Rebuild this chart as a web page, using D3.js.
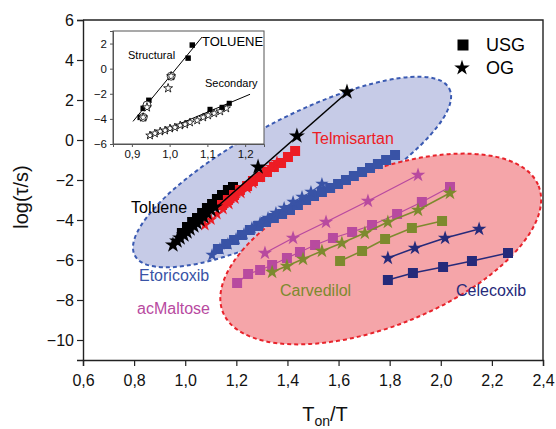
<!DOCTYPE html>
<html>
<head>
<meta charset="utf-8">
<script src="https://cdn.jsdelivr.net/npm/d3@7"></script>
<style>
  body { margin: 0; background: #fff; }
  svg { font-family: "Liberation Sans", Arial, sans-serif; }
</style>
</head>
<body>
<svg id="chart" width="556" height="429"></svg>
<script>
// ---- data ----
var xTicks = [0.6, 0.8, 1.0, 1.2, 1.4, 1.6, 1.8, 2.0, 2.2, 2.4];
var yTicks = [-10, -8, -6, -4, -2, 0, 2, 4, 6];

// Toluene
var tolueneUsgX = [0.987, 1.007, 1.027, 1.046, 1.066, 1.085, 1.105, 1.124, 1.144, 1.167, 1.187];
var tolueneUsgY = [-4.65, -4.35, -4.1, -3.9, -3.65, -3.4, -3.2, -2.95, -2.75, -2.5, -2.35];
var tolueneOgX = [0.952, 0.968, 0.980, 0.995, 1.007, 1.019, 1.034, 1.046, 1.058, 1.073, 1.085, 1.101, 1.116, 1.285, 1.437, 1.633];
var tolueneOgY = [-5.25, -5.05, -4.9, -4.75, -4.6, -4.45, -4.3, -4.15, -4.0, -3.85, -3.65, -3.5, -3.35, -1.35, 0.2, 2.4];
var tolueneFitX = [0.95, 1.64];
var tolueneFitY = [-5.3, 2.45];

// Telmisartan
var telmiUsgX = [1.144, 1.167, 1.191, 1.214, 1.242, 1.265, 1.293, 1.320, 1.347, 1.375, 1.402, 1.430];
var telmiUsgY = [-3.25, -3.0, -2.75, -2.5, -2.3, -2.05, -1.85, -1.6, -1.35, -1.15, -0.85, -0.55];
var telmiOgX = [1.077, 1.101, 1.124, 1.148, 1.171, 1.195, 1.218, 1.242, 1.265, 1.289, 1.312, 1.336, 1.359];
var telmiOgY = [-4.25, -3.98, -3.7, -3.45, -3.2, -2.93, -2.65, -2.4, -2.15, -1.85, -1.6, -1.35, -1.1];

// Etoricoxib
var etoUsgX = [1.128, 1.160, 1.191, 1.222, 1.253, 1.285, 1.316, 1.347, 1.379, 1.410, 1.441, 1.473, 1.504, 1.535, 1.567, 1.598, 1.629, 1.660, 1.692, 1.723, 1.754, 1.786, 1.821];
var etoUsgY = [-5.45, -5.2, -5.0, -4.75, -4.5, -4.3, -4.1, -3.9, -3.7, -3.5, -3.25, -3.0, -2.8, -2.6, -2.4, -2.2, -2.0, -1.8, -1.6, -1.4, -1.2, -1.0, -0.75];
var etoOgX = [1.105, 1.136, 1.167, 1.199, 1.230, 1.261, 1.293, 1.324, 1.355, 1.387, 1.422, 1.457, 1.492, 1.535];
var etoOgY = [-5.75, -5.45, -5.2, -4.95, -4.7, -4.4, -4.15, -3.9, -3.65, -3.4, -3.1, -2.85, -2.6, -2.2];

// acMaltose
var maltUsgX = [1.203, 1.246, 1.293, 1.340, 1.398, 1.449, 1.508, 1.578, 1.653, 1.731, 1.829, 1.926, 2.036];
var maltUsgY = [-7.15, -6.7, -6.5, -6.25, -5.9, -5.6, -5.25, -4.9, -4.6, -4.25, -3.7, -3.1, -2.35];
var maltOgX = [1.312, 1.422, 1.551, 1.715, 1.911];
var maltOgY = [-5.65, -4.9, -4.1, -3.05, -1.75];

// Carvedilol
var carvUsgX = [1.606, 1.692, 1.782, 1.887, 2.005];
var carvUsgY = [-6.05, -5.55, -4.95, -4.4, -4.05];
var carvOgX = [1.340, 1.398, 1.461, 1.535, 1.613, 1.703, 1.793, 1.911, 2.036];
var carvOgY = [-6.6, -6.3, -5.95, -5.55, -5.15, -4.65, -4.1, -3.5, -2.65];

// Celecoxib
var celeUsgX = [1.793, 1.891, 2.009, 2.122, 2.263];
var celeUsgY = [-7.0, -6.65, -6.35, -6.05, -5.65];
var celeOgX = [1.793, 1.899, 2.017, 2.150];
var celeOgY = [-5.9, -5.4, -4.9, -4.45];

// ellipse centres (data units)
var blueEllipseC = [1.418, -1.6];
var redEllipseC = [1.765, -5.45];

// inset: toluene structural / secondary
var insetXTicks = [0.9, 1.0, 1.1, 1.2];
var insetYTicks = [-6, -4, -2, 0, 2];
var structSqX = [1.060, 1.049, 0.945, 0.930, 0.922];
var structSqY = [1.88, 0.84, -2.52, -3.16, -3.88];
var structStarX = [1.004, 0.996, 0.940, 0.930];
var structStarY = [-0.6, -1.56, -3.08, -3.88];
var structCircX = [1.004, 0.940, 0.930];
var structCircY = [-0.6, -2.9, -3.88];
var structFitX = [0.903, 1.086];
var structFitY = [-4.2, 2.52];
var secStarX = [0.948, 0.961, 0.975, 0.988, 1.001, 1.014, 1.028, 1.041, 1.054, 1.073, 1.089, 1.102, 1.118, 1.134, 1.150];
var secStarY = [-5.32, -5.16, -5.0, -4.92, -4.76, -4.68, -4.52, -4.44, -4.28, -4.12, -3.88, -3.72, -3.56, -3.4, -3.16];
var secSqX = [1.107, 1.139, 1.158];
var secSqY = [-3.24, -3.08, -2.76];
var secFitX = [0.94, 1.213];
var secFitY = [-5.48, -2.04];

// ---- drawing ----
var svg = d3.select("#chart");
var x = d3.scaleLinear().domain([0.6, 2.4]).range([83, 543]);
var y = d3.scaleLinear().domain([-11, 6]).range([360, 20]);

var zip = function(xs, ys) { return xs.map(function(v, i) { return [v, ys[i]]; }); };
var commaFmt = function(d) { return d3.format(".1f")(d).replace(".", ","); };

// ellipses
svg.append("ellipse")
    .attr("cx", x(blueEllipseC[0])).attr("cy", y(blueEllipseC[1]))
    .attr("rx", 178).attr("ry", 52)
    .attr("transform", "rotate(-28," + x(blueEllipseC[0]) + "," + y(blueEllipseC[1]) + ")")
    .attr("fill", "#c6cbe7")
    .attr("stroke", "#3a5ab2").attr("stroke-width", 2).attr("stroke-dasharray", "4,3");

svg.append("ellipse")
    .attr("cx", x(redEllipseC[0])).attr("cy", y(redEllipseC[1]))
    .attr("rx", 170).attr("ry", 77)
    .attr("transform", "rotate(-21.8," + x(redEllipseC[0]) + "," + y(redEllipseC[1]) + ")")
    .attr("fill", "#f5a5a9")
    .attr("stroke", "#e8232b").attr("stroke-width", 2).attr("stroke-dasharray", "4,3");

var line = d3.line().x(function(d) { return x(d[0]); }).y(function(d) { return y(d[1]); });

var drawLine = function(pts, color, w) {
    svg.append("path").attr("d", line(pts))
        .attr("fill", "none").attr("stroke", color).attr("stroke-width", w);
};

var drawMarks = function(pts, type, size, color) {
    svg.append("g").selectAll("path")
        .data(pts)
        .enter()
        .append("path")
        .attr("transform", function(d) { return "translate(" + x(d[0]) + "," + y(d[1]) + ")"; })
        .attr("d", d3.symbol().type(type).size(size)())
        .attr("fill", color);
};

var cBlack = "#000000", cRed = "#ed1c24", cBlue = "#3953a6", cMag = "#b84a9f", cOlive = "#7d8a2e", cNavy = "#262a7a";

// Etoricoxib
drawMarks(zip(etoUsgX, etoUsgY), d3.symbolSquare, 100, cBlue);
drawLine(zip(etoOgX, etoOgY), cBlue, 1.3);
drawMarks(zip(etoOgX, etoOgY), d3.symbolStar, 55, cBlue);

// acMaltose
drawLine(zip(maltUsgX, maltUsgY), cMag, 1.3);
drawMarks(zip(maltUsgX, maltUsgY), d3.symbolSquare, 100, cMag);
drawLine(zip(maltOgX, maltOgY), cMag, 1.3);
drawMarks(zip(maltOgX, maltOgY), d3.symbolStar, 65, cMag);

// Carvedilol
drawLine(zip(carvUsgX, carvUsgY), cOlive, 1.5);
drawMarks(zip(carvUsgX, carvUsgY), d3.symbolSquare, 100, cOlive);
drawLine(zip(carvOgX, carvOgY), cOlive, 1.5);
drawMarks(zip(carvOgX, carvOgY), d3.symbolStar, 65, cOlive);

// Celecoxib
drawLine(zip(celeUsgX, celeUsgY), cNavy, 1.5);
drawMarks(zip(celeUsgX, celeUsgY), d3.symbolSquare, 100, cNavy);
drawLine(zip(celeOgX, celeOgY), cNavy, 1.5);
drawMarks(zip(celeOgX, celeOgY), d3.symbolStar, 65, cNavy);

// Toluene & Telmisartan
drawMarks(zip(tolueneUsgX, tolueneUsgY), d3.symbolSquare, 100, cBlack);
drawMarks(zip(telmiUsgX, telmiUsgY), d3.symbolSquare, 100, cRed);
drawMarks(zip(telmiOgX, telmiOgY), d3.symbolStar, 50, cRed);
drawMarks(zip(tolueneOgX, tolueneOgY), d3.symbolStar, 80, cBlack);
drawLine(zip(tolueneFitX, tolueneFitY), cBlack, 1.5);

// axes
var axisColor = "#222";
var gx = svg.append("g").attr("transform", "translate(0,360)");
gx.call(d3.axisBottom(x).tickValues(d3.range(6, 25).map(function(v) { return v / 10; })).tickSize(3).tickFormat(""));
gx.call(d3.axisBottom(x).tickValues(xTicks).tickSize(6).tickFormat(commaFmt));
var gy = svg.append("g").attr("transform", "translate(83,0)");
gy.call(d3.axisLeft(y).tickValues(d3.range(-11, 7)).tickSize(3).tickFormat(""));
gy.call(d3.axisLeft(y).tickValues(yTicks).tickSize(6));
svg.selectAll(".domain").attr("stroke", axisColor).attr("stroke-width", 1.4);
svg.selectAll(".tick line").attr("stroke", axisColor).attr("stroke-width", 1.2);
svg.selectAll(".tick text").attr("font-size", 16).attr("fill", "#111")
    .attr("font-family", "Liberation Sans, Arial, sans-serif");
gx.selectAll(".tick text").attr("dy", "1.05em");

// frame top/right
svg.append("path").attr("d", "M83,20H543V360")
    .attr("fill", "none").attr("stroke", axisColor).attr("stroke-width", 1.4);

// axis titles
svg.append("text").attr("transform", "translate(28,197) rotate(-90)")
    .attr("text-anchor", "middle").attr("font-size", 20).attr("fill", "#111")
    .text("log(τ/s)");
var xt = svg.append("text").attr("x", 325).attr("y", 421)
    .attr("text-anchor", "middle").attr("font-size", 20).attr("fill", "#111");
xt.append("tspan").text("T");
xt.append("tspan").attr("font-size", 14).attr("dy", 5).text("on");
xt.append("tspan").attr("dy", -5).text("/T");

// series labels
var labels = [
    ["Telmisartan", 312, 144, cRed],
    ["Toluene", 131, 213, cBlack],
    ["Etoricoxib", 139, 281, cBlue],
    ["acMaltose", 137, 314, cMag],
    ["Carvedilol", 280, 296, cOlive],
    ["Celecoxib", 456, 296, cNavy]
];
svg.append("g").selectAll("text").data(labels).enter().append("text")
    .attr("x", function(d) { return d[1]; }).attr("y", function(d) { return d[2]; })
    .attr("font-size", 16).attr("fill", function(d) { return d[3]; })
    .text(function(d) { return d[0]; });

// legend
svg.append("path").attr("transform", "translate(463,45)")
    .attr("d", d3.symbol().type(d3.symbolSquare).size(121)()).attr("fill", "#000");
svg.append("path").attr("transform", "translate(462,68)")
    .attr("d", d3.symbol().type(d3.symbolStar).size(75)()).attr("fill", "#000");
svg.append("text").attr("x", 486).attr("y", 51).attr("font-size", 18).text("USG");
svg.append("text").attr("x", 486).attr("y", 74).attr("font-size", 18).text("OG");

// ---- inset ----
var ix = d3.scaleLinear().domain([0.85, 1.25]).range([113, 264]);
var iy = d3.scaleLinear().domain([-6, 3]).range([144, 31]);
var inset = svg.append("g");
inset.append("rect").attr("x", 113).attr("y", 31).attr("width", 151).attr("height", 113)
    .attr("fill", "#fff").attr("stroke", "#555").attr("stroke-width", 1);

var iline = d3.line().x(function(d) { return ix(d[0]); }).y(function(d) { return iy(d[1]); });
inset.append("path").attr("d", iline(zip(structFitX, structFitY)))
    .attr("stroke", "#000").attr("stroke-width", 1).attr("fill", "none");
inset.append("path").attr("d", iline(zip(secFitX, secFitY)))
    .attr("stroke", "#000").attr("stroke-width", 1).attr("fill", "none");

var insetMarks = function(pts, type, size, filled) {
    inset.append("g").selectAll("path").data(pts).enter().append("path")
        .attr("transform", function(d) { return "translate(" + ix(d[0]) + "," + iy(d[1]) + ")"; })
        .attr("d", d3.symbol().type(type).size(size)())
        .attr("fill", filled ? "#000" : "#fff")
        .attr("stroke", "#000").attr("stroke-width", filled ? 0 : 0.8);
};
insetMarks(zip(structSqX, structSqY), d3.symbolSquare, 30, true);
insetMarks(zip(structCircX, structCircY), d3.symbolCircle, 50, false);
insetMarks(zip(structStarX, structStarY), d3.symbolStar, 25, false);
insetMarks(zip(secStarX, secStarY), d3.symbolStar, 22, false);
insetMarks(zip(secSqX, secSqY), d3.symbolSquare, 26, true);

var igx = inset.append("g").attr("transform", "translate(0,144)")
    .call(d3.axisBottom(ix).tickValues(insetXTicks).tickSize(3).tickFormat(commaFmt));
var igy = inset.append("g").attr("transform", "translate(113,0)")
    .call(d3.axisLeft(iy).tickValues(insetYTicks).tickSize(3));
inset.selectAll(".domain").attr("stroke", "#555").attr("stroke-width", 1);
inset.selectAll(".tick line").attr("stroke", "#555");
inset.selectAll(".tick text").attr("font-size", 11.5).attr("fill", "#111");

inset.append("text").attr("x", 202).attr("y", 46).attr("font-size", 13).text("TOLUENE");
inset.append("text").attr("x", 128).attr("y", 59).attr("font-size", 11).text("Structural");
inset.append("text").attr("x", 205).attr("y", 87).attr("font-size", 11).text("Secondary");
</script>
</body>
</html>
